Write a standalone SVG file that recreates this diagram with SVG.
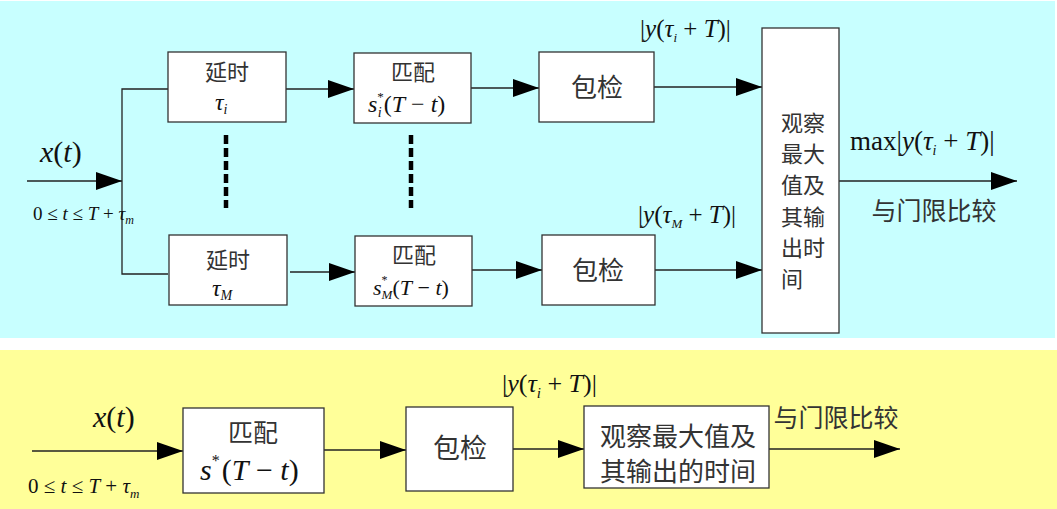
<svg xmlns="http://www.w3.org/2000/svg" width="1057" height="509" viewBox="0 0 1057 509">
<style>
.box{fill:#fff;stroke:#333;stroke-width:1.3}
.ln{fill:none;stroke:#222;stroke-width:1.3}
.arr{fill:none;stroke:#222;stroke-width:1.3;marker-end:url(#ah)}
.dash{fill:none;stroke:#000;stroke-width:4.5;stroke-dasharray:9,4}
.cn{font-family:"Noto Sans CJK SC",sans-serif;fill:#333;text-anchor:middle}
.m{font-family:"Liberation Serif",serif;fill:#111;font-style:italic}
.u{font-style:normal}
</style>
<defs>
<marker id="ah" markerUnits="userSpaceOnUse" markerWidth="26" markerHeight="18" refX="26" refY="9" orient="auto">
<path d="M0,0 L26,9 L0,18 Z" fill="#000"/>
</marker>
</defs>
<rect x="0" y="1" width="1055" height="337" fill="#C8FFFF"/>
<rect x="0" y="350" width="1057" height="159" fill="#FFFF99"/>

<g id="connectors">
<line class="arr" x1="27" y1="181" x2="122" y2="181"/>
<polyline class="ln" points="168,89 122,89 122,274 168,274"/>
<line class="arr" x1="286" y1="89" x2="354" y2="89"/>
<line class="arr" x1="290" y1="272" x2="355" y2="272"/>
<line class="arr" x1="471" y1="88" x2="539" y2="88"/>
<line class="arr" x1="472" y1="270" x2="542" y2="270"/>
<line class="arr" x1="654" y1="87" x2="762" y2="87"/>
<line class="arr" x1="655" y1="270" x2="762" y2="270"/>
<line class="arr" x1="839" y1="181" x2="1017" y2="181"/>
<line class="dash" x1="226" y1="135" x2="226" y2="208"/>
<line class="dash" x1="411" y1="135" x2="411" y2="208"/>
<line class="arr" x1="32" y1="451" x2="183" y2="451"/>
<line class="arr" x1="324" y1="450" x2="406" y2="450"/>
<line class="arr" x1="513" y1="449" x2="584" y2="449"/>
<line class="arr" x1="769" y1="449" x2="900" y2="449"/>
</g>

<g id="labels-top">
<text class="m" x="40" y="162" font-size="30">x<tspan class="u">(</tspan>t<tspan class="u">)</tspan></text>
<text class="m" x="33" y="220" font-size="19"><tspan class="u">0 ≤ </tspan>t<tspan class="u"> ≤ </tspan>T<tspan class="u"> + </tspan>τ<tspan font-size="12" dy="4">m</tspan></text>
<text class="m" x="640" y="37" font-size="25"><tspan class="u">|</tspan>y<tspan class="u">(</tspan>τ<tspan font-size="13" dy="5">i</tspan><tspan class="u" dy="-5"> + </tspan>T<tspan class="u">)|</tspan></text>
<text class="m" x="638" y="223" font-size="25"><tspan class="u">|</tspan>y<tspan class="u">(</tspan>τ<tspan font-size="13" dy="5">M</tspan><tspan class="u" dy="-5"> + </tspan>T<tspan class="u">)|</tspan></text>
<text class="m" x="850" y="150" font-size="27"><tspan class="u">max|</tspan>y<tspan class="u">(</tspan>τ<tspan font-size="14" dy="5">i</tspan><tspan class="u" dy="-5"> + </tspan>T<tspan class="u">)|</tspan></text>
<text class="cn" x="934" y="220" font-size="25">与门限比较</text>
</g>

<g id="delay-i">
<rect class="box" x="168" y="52" width="118" height="70"/>
<text class="cn" x="227" y="80" font-size="22">延时</text>
<text class="m" x="215" y="110" font-size="24">τ<tspan font-size="14" dy="4">i</tspan></text>
</g>
<g id="delay-M">
<rect class="box" x="169" y="235" width="118" height="70"/>
<text class="cn" x="228" y="268" font-size="22">延时</text>
<text class="m" x="212" y="296" font-size="24">τ<tspan font-size="14" dy="4">M</tspan></text>
</g>
<g id="match-i">
<rect class="box" x="354" y="53" width="117" height="70"/>
<text class="cn" x="413" y="80" font-size="22">匹配</text>
<text class="m" x="368" y="112" font-size="24">s<tspan class="u" font-size="13" dy="-11">*</tspan><tspan font-size="14" dx="-6" dy="16">i</tspan><tspan class="u" dy="-5" dx="2">(</tspan>T<tspan class="u"> − </tspan>t<tspan class="u">)</tspan></text>
</g>
<g id="match-M">
<rect class="box" x="355" y="236" width="117" height="70"/>
<text class="cn" x="414" y="263" font-size="22">匹配</text>
<text class="m" x="373" y="295" font-size="22">s<tspan class="u" font-size="12" dy="-11">*</tspan><tspan font-size="13" dx="-6" dy="15">M</tspan><tspan class="u" dy="-4">(</tspan>T<tspan class="u"> − </tspan>t<tspan class="u">)</tspan></text>
</g>
<g id="env-i">
<rect class="box" x="539" y="52" width="115" height="70"/>
<text class="cn" x="597" y="97" font-size="26">包检</text>
</g>
<g id="env-M">
<rect class="box" x="542" y="235" width="113" height="70"/>
<text class="cn" x="598" y="280" font-size="26">包检</text>
</g>
<g id="observe">
<rect class="box" x="762" y="28" width="77" height="305"/>
<text class="cn" x="803" y="131" font-size="22">观察</text>
<text class="cn" x="803" y="162" font-size="22">最大</text>
<text class="cn" x="803" y="193" font-size="22">值及</text>
<text class="cn" x="803" y="225" font-size="22">其输</text>
<text class="cn" x="803" y="256" font-size="22">出时</text>
<text class="cn" x="792" y="287" font-size="22">间</text>
</g>

<g id="labels-bottom">
<text class="m" x="93" y="427" font-size="30">x<tspan class="u">(</tspan>t<tspan class="u">)</tspan></text>
<text class="m" x="28" y="493" font-size="21"><tspan class="u">0 ≤ </tspan>t<tspan class="u"> ≤ </tspan>T<tspan class="u"> + </tspan>τ<tspan font-size="13" dy="5">m</tspan></text>
<text class="m" x="502" y="392" font-size="26"><tspan class="u">|</tspan>y<tspan class="u">(</tspan>τ<tspan font-size="15" dy="6">i</tspan><tspan class="u" dy="-6"> + </tspan>T<tspan class="u">)|</tspan></text>
<text class="cn" x="836" y="427" font-size="25">与门限比较</text>
</g>
<g id="match">
<rect class="box" x="183" y="408" width="141" height="85"/>
<text class="cn" x="253" y="442" font-size="25">匹配</text>
<text class="m" x="200" y="480" font-size="30">s<tspan class="u" font-size="16" dy="-14">*</tspan><tspan class="u" dy="14" dx="2">(</tspan>T<tspan class="u"> − </tspan>t<tspan class="u">)</tspan></text>
</g>
<g id="env">
<rect class="box" x="406" y="407" width="107" height="84"/>
<text class="cn" x="460" y="458" font-size="27">包检</text>
</g>
<g id="observe-b">
<rect class="box" x="584" y="406" width="185" height="82"/>
<text class="cn" x="678" y="446" font-size="26">观察最大值及</text>
<text class="cn" x="678" y="481" font-size="26">其输出的时间</text>
</g>
</svg>
